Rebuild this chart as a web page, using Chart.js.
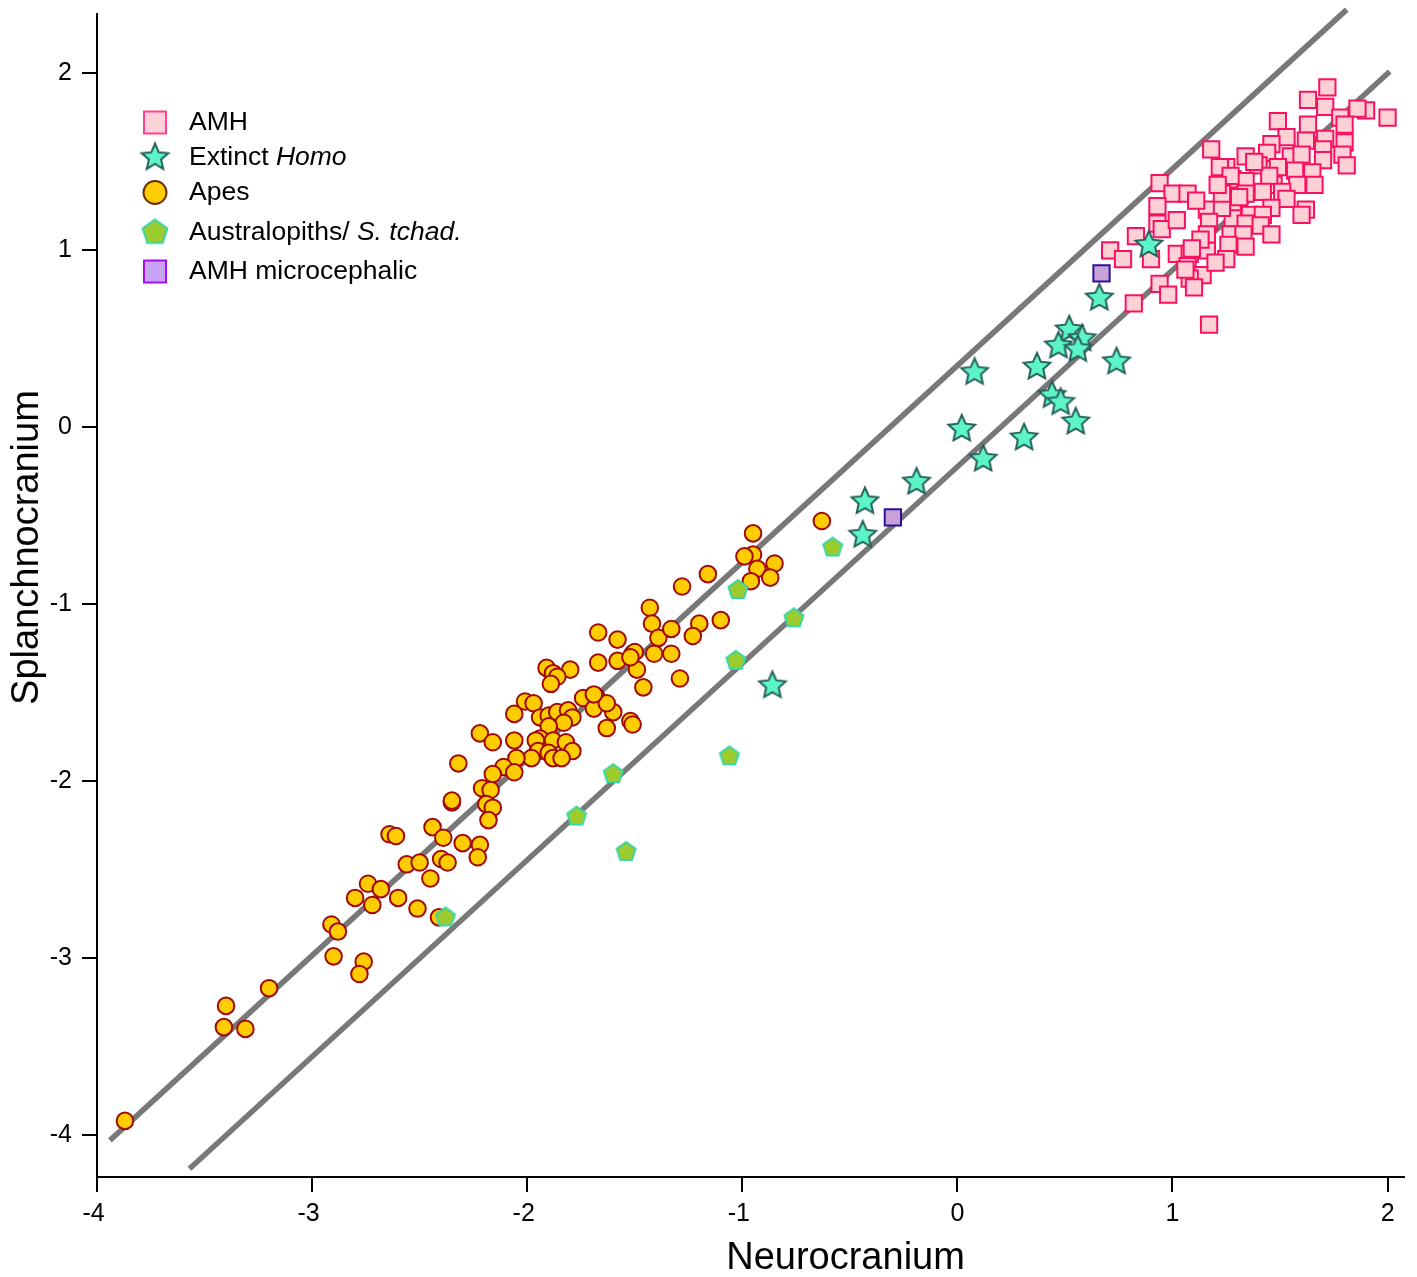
<!DOCTYPE html>
<html>
<head>
<meta charset="utf-8">
<script src="https://cdn.jsdelivr.net/npm/chart.js@4.4.1/dist/chart.umd.min.js"></script>
<style>
html, body { margin: 0; padding: 0; background: #fff; }
#wrap { width: 1417px; height: 1277px; }
</style>
</head>
<body>
<div id="wrap"><canvas id="skullChart" width="1417" height="1277"></canvas></div>
<script>
// values: [neurocranium, splanchnocranium]
const amh = [
  [2.00,1.75],[1.90,1.79],[1.86,1.80],[1.72,1.92],[1.63,1.85],[1.71,1.81],[1.78,1.75],[1.80,1.71],[1.49,1.73],[1.63,1.71],
  [1.53,1.64],[1.46,1.60],[1.62,1.62],[1.71,1.63],[1.80,1.61],[1.34,1.53],[1.44,1.55],[1.55,1.53],[1.60,1.54],[1.70,1.57],
  [1.79,1.54],[1.81,1.48],[1.70,1.51],[1.25,1.47],[1.40,1.48],[1.49,1.47],[1.57,1.45],[1.65,1.44],[1.47,1.37],[1.58,1.37],
  [1.66,1.37],[1.45,1.42],[1.28,1.40],[1.34,1.39],[1.34,1.32],[1.42,1.33],[1.51,1.33],[1.53,1.29],[1.62,1.23],[1.60,1.20],
  [1.28,1.26],[1.36,1.20],[1.46,1.24],[1.42,1.20],[1.28,1.18],[1.34,1.15],[1.41,1.14],[1.46,1.09],[1.27,1.09],[1.33,1.09],
  [1.26,1.03],[1.34,1.02],[1.25,0.95],[1.18,1.57],[0.94,1.38],[1.00,1.32],[1.07,1.32],[0.93,1.25],[0.93,1.15],[0.83,1.08],
  [0.95,1.12],[1.02,1.17],[1.16,1.23],[1.23,1.24],[1.17,1.16],[0.71,1.00],[0.77,0.95],[0.90,0.95],[1.02,0.98],[1.08,0.98],
  [1.16,1.00],[1.16,1.09],[1.07,0.91],[1.14,0.86],[1.08,0.84],[0.94,0.81],[0.98,0.75],[0.82,0.70],[1.17,0.58],[1.22,1.47],
  [1.27,1.42],[1.23,1.32],[1.21,1.37],[1.13,1.06],[1.09,1.01],[1.38,1.50],[1.31,1.30],[1.11,1.28],[1.06,0.89],[1.20,0.93],
  [1.10,0.79]
];

const extinctHomo = [
  [0.89,1.03],[0.66,0.73],[0.52,0.55],[0.47,0.46],[0.58,0.50],[0.56,0.44],[0.74,0.37],[0.37,0.34],[0.08,0.31],[0.44,0.18],
  [0.48,0.14],[0.55,0.03],[0.02,-0.01],[0.31,-0.06],[0.12,-0.18],[-0.19,-0.31],[-0.43,-0.42],[-0.44,-0.61],[-0.86,-1.46]
];

const apes = [
  [-3.87,-3.92],[-3.40,-3.27],[-3.41,-3.39],[-3.31,-3.40],[-3.20,-3.17],[-2.91,-2.81],[-2.88,-2.85],[-2.90,-2.99],[-2.76,-3.02],[-2.78,-3.09],
  [-2.80,-2.66],[-2.72,-2.70],[-2.74,-2.58],[-2.68,-2.61],[-2.60,-2.66],[-2.51,-2.72],[-2.41,-2.77],[-2.56,-2.47],[-2.50,-2.46],[-2.45,-2.55],
  [-2.40,-2.44],[-2.37,-2.46],[-2.64,-2.30],[-2.61,-2.31],[-2.44,-2.26],[-2.39,-2.32],[-2.30,-2.35],[-2.35,-2.12],[-1.67,-1.33],[-1.58,-1.32],
  [-1.51,-1.28],[-1.49,-1.37],[-1.41,-1.28],[-1.33,-1.28],[-1.46,-1.47],[-1.29,-1.42],[-1.91,-1.36],[-1.88,-1.39],[-1.80,-1.37],[-1.86,-1.41],
  [-1.89,-1.45],[-1.74,-1.53],[-1.68,-1.52],[-1.69,-1.59],[-1.60,-1.61],[-1.63,-1.56],[-1.52,-1.66],[-1.51,-1.68],[-1.63,-1.70],[-2.01,-1.55],
  [-1.97,-1.56],[-2.06,-1.62],[-1.94,-1.64],[-1.90,-1.63],[-1.86,-1.61],[-1.81,-1.60],[-1.79,-1.64],[-1.83,-1.67],[-1.90,-1.69],[-2.22,-1.73],
  [-2.16,-1.78],[-2.06,-1.77],[-1.94,-1.76],[-1.96,-1.77],[-1.88,-1.77],[-1.82,-1.78],[-1.79,-1.83],[-1.95,-1.83],[-1.90,-1.84],[-1.98,-1.87],
  [-1.88,-1.87],[-1.84,-1.87],[-2.05,-1.87],[-2.32,-1.90],[-2.11,-1.92],[-2.06,-1.95],[-2.16,-1.96],[-2.21,-2.04],[-2.17,-2.05],[-2.35,-2.11],
  [-2.19,-2.13],[-2.16,-2.15],[-2.18,-2.22],[-2.22,-2.36],[-2.23,-2.43],[-0.63,-0.53],[-0.95,-0.60],[-0.95,-0.72],[-0.99,-0.73],[-0.85,-0.77],
  [-0.93,-0.80],[-0.87,-0.85],[-0.96,-0.87],[-1.16,-0.83],[-1.28,-0.90],[-1.43,-1.02],[-1.42,-1.11],[-1.39,-1.19],[-1.33,-1.14],[-1.20,-1.11],
  [-1.10,-1.09],[-1.23,-1.18],[-1.50,-1.27],[-1.52,-1.30],[-1.67,-1.16],[-1.58,-1.20],[-1.69,-1.51]
];

const australopiths = [
  [-0.58,-0.68],[-1.02,-0.92],[-0.76,-1.08],[-1.03,-1.32],[-1.06,-1.86],[-1.60,-1.96],[-1.77,-2.20],[-1.54,-2.40],[-2.38,-2.77]
];

const amhMicro = [[0.67,0.87],[-0.30,-0.51]];

// the two reference lines, as end points
const upperFit = [[-3.94,-4.03],[1.81,2.36]];
const lowerFit = [[-3.57,-4.19],[2.01,2.01]];

const xTicks = [-4, -3, -2, -1, 0, 1, 2];
const yTicks = [-4, -3, -2, -1, 0, 1, 2];

const legendItems = [
  { key: 'amh',   parts: [['AMH', false]] },
  { key: 'homo',  parts: [['Extinct ', false], ['Homo', true]] },
  { key: 'apes',  parts: [['Apes', false]] },
  { key: 'austr', parts: [['Australopiths/ ', false], ['S. tchad.', true]] },
  { key: 'micro', parts: [['AMH microcephalic', false]] }
];

const FONT = "Arial, 'Liberation Sans', sans-serif";

function polygonCanvas(n, outer, inner, fill, stroke, lw) {
  const pad = lw + 1;
  const size = Math.ceil(2 * (outer + pad));
  const c = document.createElement('canvas');
  c.width = size; c.height = size;
  const g = c.getContext('2d');
  const cx = size / 2, cy = size / 2;
  const pts = inner ? n * 2 : n;
  g.beginPath();
  for (let i = 0; i < pts; i++) {
    const r = inner ? (i % 2 === 0 ? outer : inner) : outer;
    const a = -Math.PI / 2 + i * 2 * Math.PI / pts;
    const px = cx + r * Math.cos(a), py = cy + r * Math.sin(a);
    if (i === 0) g.moveTo(px, py); else g.lineTo(px, py);
  }
  g.closePath();
  g.fillStyle = fill;
  g.fill();
  g.lineWidth = lw;
  g.lineJoin = 'miter';
  g.strokeStyle = stroke;
  g.stroke();
  return c;
}

const starImg = polygonCanvas(5, 14, 6.6, '#5df5c7', '#27605b', 2);
const pentImg = polygonCanvas(5, 10, 0, '#9ccb2e', '#38d6ad', 2);

const pts = arr => arr.map(p => ({ x: p[0], y: p[1] }));

const axisTitles = {
  id: 'axisTitles',
  afterDraw(chart) {
    const ctx = chart.ctx;
    const a = chart.chartArea;
    ctx.save();
    ctx.fillStyle = '#000';
    ctx.font = '38px ' + FONT;
    ctx.textAlign = 'center';
    ctx.textBaseline = 'middle';
    ctx.fillText('Neurocranium', chart.scales.x.getPixelForValue(-0.52), a.bottom + 82);
    ctx.translate(a.left - 69, chart.scales.y.getPixelForValue(-0.68));
    ctx.rotate(-Math.PI / 2);
    ctx.fillText('Splanchnocranium', 0, 0);
    ctx.restore();
  }
};

const customLegend = {
  id: 'customLegend',
  afterDraw(chart) {
    const ctx = chart.ctx;
    const a = chart.chartArea;
    const iconX = a.left + 58;
    const textX = a.left + 92;
    const top = a.top + 109;
    const rows = [0, 35, 70, 110, 149];
    ctx.save();
    legendItems.forEach((item, i) => {
      const y = top + rows[i];
      if (item.key === 'amh' || item.key === 'micro') {
        ctx.fillStyle = item.key === 'amh' ? '#ffd1d8' : '#caa2f5';
        ctx.strokeStyle = item.key === 'amh' ? '#ff3f90' : '#a10cf5';
        ctx.lineWidth = 2;
        ctx.fillRect(iconX - 11, y - 11, 22, 22);
        ctx.strokeRect(iconX - 11, y - 11, 22, 22);
      } else if (item.key === 'apes') {
        ctx.beginPath();
        ctx.arc(iconX, y, 11.5, 0, Math.PI * 2);
        ctx.fillStyle = '#ffcc00';
        ctx.fill();
        ctx.strokeStyle = '#6b2c05';
        ctx.lineWidth = 2;
        ctx.stroke();
      } else {
        const img = item.key === 'homo'
          ? polygonCanvas(5, 14, 6.4, '#5df5c7', '#27605b', 2)
          : polygonCanvas(5, 13, 0, '#9ccb2e', '#38d6ad', 2);
        ctx.drawImage(img, iconX - img.width / 2, y - img.height / 2);
      }
      let x = textX;
      ctx.fillStyle = '#000';
      ctx.textBaseline = 'middle';
      ctx.textAlign = 'left';
      item.parts.forEach(([txt, it]) => {
        ctx.font = (it ? 'italic ' : '') + '26.5px ' + FONT;
        ctx.fillText(txt, x, y);
        x += ctx.measureText(txt).width;
      });
    });
    ctx.restore();
  }
};

const ctx = document.getElementById('skullChart').getContext('2d');
const skullChart = new Chart(ctx, {
  type: 'scatter',
  data: {
    datasets: [
      {
        label: 'AMH microcephalic',
        data: pts(amhMicro),
        pointStyle: 'rect',
        pointRadius: 11.5,
        backgroundColor: '#c9a1d9',
        borderColor: '#2d1196',
        borderWidth: 2,
        order: 1
      },
      {
        label: 'Extinct Homo',
        data: pts(extinctHomo),
        pointStyle: starImg,
        order: 2
      },
      {
        label: 'Australopiths/ S. tchad.',
        data: pts(australopiths),
        pointStyle: pentImg,
        order: 3
      },
      {
        label: 'AMH',
        data: pts(amh),
        pointStyle: 'rect',
        pointRadius: 11.5,
        backgroundColor: '#ffd0d6',
        borderColor: '#fa1060',
        borderWidth: 2,
        order: 4
      },
      {
        label: 'Apes',
        data: pts(apes),
        pointStyle: 'circle',
        pointRadius: 8.3,
        backgroundColor: '#ffcc00',
        borderColor: '#a10a0a',
        borderWidth: 2,
        order: 5
      },
      {
        label: 'upper',
        data: pts(upperFit),
        showLine: true,
        pointRadius: 0,
        borderColor: '#787878',
        borderWidth: 5.5,
        clip: false,
        order: 6
      },
      {
        label: 'lower',
        data: pts(lowerFit),
        showLine: true,
        pointRadius: 0,
        borderColor: '#787878',
        borderWidth: 5.5,
        clip: false,
        order: 7
      }
    ]
  },
  options: {
    responsive: false,
    animation: false,
    devicePixelRatio: 1,
    layout: { padding: { left: 0, top: 0, right: 1, bottom: 0 } },
    plugins: {
      legend: { display: false },
      tooltip: { enabled: false }
    },
    scales: {
      x: {
        type: 'linear',
        min: -4,
        max: 2.074,
        afterBuildTicks: s => { s.ticks = xTicks.map(v => ({ value: v })); },
        afterFit: s => { s.height = 100; s.paddingLeft = 0; s.paddingRight = 0; },
        grid: { drawOnChartArea: false, drawTicks: true, tickLength: 15, color: '#000', lineWidth: 2 },
        border: { display: true, color: '#000', width: 2 },
        ticks: {
          color: '#000',
          font: { family: FONT, size: 25 },
          padding: 7,
          maxRotation: 0,
          // trailing space keeps the digit itself centred under the tick
          callback: v => v < 0 ? String(v) + ' ' : String(v)
        }
      },
      y: {
        type: 'linear',
        min: -4.237,
        max: 2.338,
        afterBuildTicks: s => { s.ticks = yTicks.map(v => ({ value: v })); },
        afterFit: s => { s.width = 97; s.paddingTop = 0; s.paddingBottom = 0; },
        grid: { drawOnChartArea: false, drawTicks: true, tickLength: 15, color: '#000', lineWidth: 2 },
        border: { display: true, color: '#000', width: 2 },
        ticks: {
          color: '#000',
          font: { family: FONT, size: 25 },
          padding: 10,
          callback: v => String(v)
        }
      }
    }
  },
  plugins: [axisTitles, customLegend]
});
</script>
</body>
</html>
